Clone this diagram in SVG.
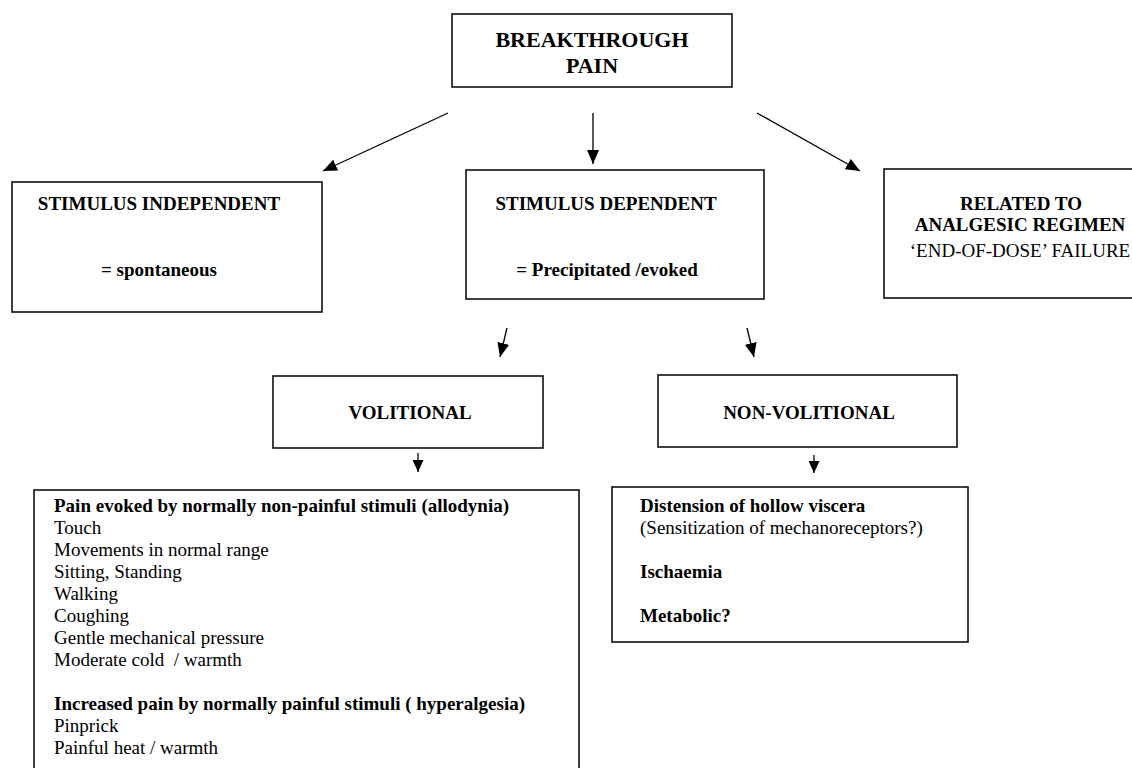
<svg xmlns="http://www.w3.org/2000/svg" width="1132" height="768" viewBox="0 0 1132 768">
<defs>
<marker id="ah" markerUnits="userSpaceOnUse" markerWidth="14" markerHeight="12" refX="14" refY="6" orient="auto">
<path d="M0,0 L14,6 L0,12 z" fill="#000"/>
</marker>
<marker id="ahs" markerUnits="userSpaceOnUse" markerWidth="12" markerHeight="11" refX="12" refY="5.5" orient="auto">
<path d="M0,0 L12,5.5 L0,11 z" fill="#000"/>
</marker>
<style>
.box{fill:#fff;stroke:#111;stroke-width:1.6}
.t{font-size:19px;fill:#000}
.b{font-weight:bold}
.c{text-anchor:middle}
.title{font-size:22px}
.ln{stroke:#000;stroke-width:1.3;fill:none}
</style>
</defs>
<rect width="1132" height="768" fill="#fff"/>
<g id="connectors">
<line class="ln" x1="448" y1="113" x2="323" y2="171" marker-end="url(#ah)"/>
<line class="ln" x1="593" y1="113" x2="593" y2="164" marker-end="url(#ah)"/>
<line class="ln" x1="757" y1="113" x2="860" y2="171" marker-end="url(#ah)"/>
<line class="ln" x1="507" y1="328" x2="500" y2="357" marker-end="url(#ah)"/>
<line class="ln" x1="747" y1="328" x2="754" y2="357" marker-end="url(#ah)"/>
<line class="ln" x1="418" y1="453" x2="418" y2="472" marker-end="url(#ahs)"/>
<line class="ln" x1="814" y1="455" x2="814" y2="473" marker-end="url(#ahs)"/>
</g>
<g font-family="Liberation Serif, Times New Roman, serif">
<g id="breakthrough">
<rect class="box" x="452" y="14" width="280" height="73"/>
<text class="t b c title" x="592" y="47">BREAKTHROUGH</text>
<text class="t b c title" x="592" y="73">PAIN</text>
</g>
<g id="stimulus-independent">
<rect class="box" x="12" y="182" width="310" height="130"/>
<text class="t b c" x="159" y="210">STIMULUS INDEPENDENT</text>
<text class="t b c" x="159" y="276">= spontaneous</text>
</g>
<g id="stimulus-dependent">
<rect class="box" x="466" y="170" width="298" height="129"/>
<text class="t b c" x="606" y="210">STIMULUS DEPENDENT</text>
<text class="t b c" x="607" y="276">= Precipitated /evoked</text>
</g>
<g id="analgesic">
<rect class="box" x="884" y="169" width="272" height="129"/>
<text class="t b c" x="1021" y="210">RELATED TO</text>
<text class="t b c" x="1020" y="231">ANALGESIC REGIMEN</text>
<text class="t c" x="1020" y="257">‘END-OF-DOSE’ FAILURE</text>
</g>
<g id="volitional">
<rect class="box" x="273" y="376" width="270" height="72"/>
<text class="t b c" x="410" y="419">VOLITIONAL</text>
</g>
<g id="non-volitional">
<rect class="box" x="658" y="375" width="299" height="72"/>
<text class="t b c" x="809" y="419">NON-VOLITIONAL</text>
</g>
<g id="volitional-list">
<rect class="box" x="34" y="490" width="545" height="300"/>
<text class="t b" x="54" y="512">Pain evoked by normally non-painful stimuli (allodynia)</text>
<text class="t" x="54" y="534">Touch</text>
<text class="t" x="54" y="556">Movements in normal range</text>
<text class="t" x="54" y="578">Sitting, Standing</text>
<text class="t" x="54" y="600">Walking</text>
<text class="t" x="54" y="622">Coughing</text>
<text class="t" x="54" y="644">Gentle mechanical pressure</text>
<text class="t" x="54" y="666" xml:space="preserve">Moderate cold  / warmth</text>
<text class="t b" x="54" y="710">Increased pain by normally painful stimuli ( hyperalgesia)</text>
<text class="t" x="54" y="732">Pinprick</text>
<text class="t" x="54" y="754">Painful heat / warmth</text>
</g>
<g id="non-volitional-list">
<rect class="box" x="612" y="487" width="356" height="155"/>
<text class="t b" x="640" y="512">Distension of hollow viscera</text>
<text class="t" x="640" y="534">(Sensitization of mechanoreceptors?)</text>
<text class="t b" x="640" y="578">Ischaemia</text>
<text class="t b" x="640" y="622">Metabolic?</text>
</g>
</g>
</svg>
